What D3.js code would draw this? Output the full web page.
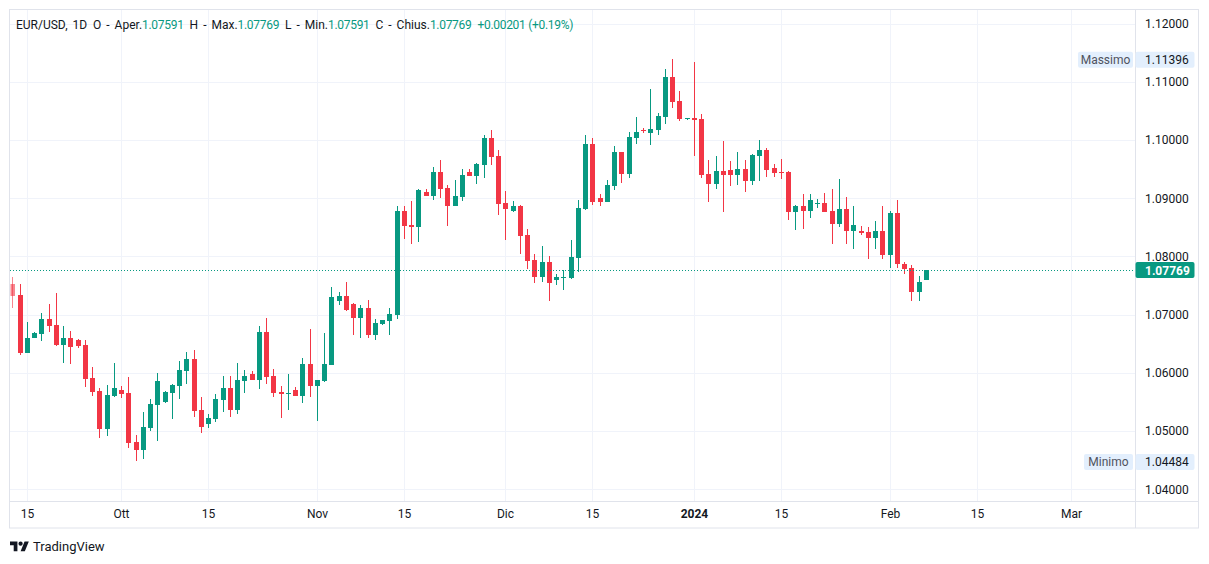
<!DOCTYPE html>
<html><head><meta charset="utf-8">
<script src="https://cdn.jsdelivr.net/npm/d3@7"></script>
<style>
html,body{margin:0;padding:0;background:#fff;}
svg{display:block;font-family:Roboto,"Liberation Sans",sans-serif;}
</style></head>
<body>
<svg id="chart" width="1209" height="564"></svg>
<script>
// ---------- DATA ----------
const firstBarDate = "2023-09-13"; // daily bars, Sunday sessions included, no Saturdays
const openValues = [1.07527,1.07343,1.06347,1.06604,1.06673,1.06926,1.06822,1.06484,1.06599,1.06565,
1.06479,1.05912,1.05689,1.05041,1.05603,1.05706,1.05654,1.04813,1.04681,1.05059,
1.05454,1.05505,1.05660,1.05780,1.06037,1.06238,1.05362,1.05127,1.05213,1.05539,
1.05740,1.05368,1.05866,1.05981,1.05883,1.06702,1.05946,1.05677,1.05643,1.05706,
1.05608,1.06153,1.05780,1.05866,1.06141,1.07235,1.07321,1.07183,1.06943,1.07114,
1.06651,1.06840,1.06891,1.06994,1.08781,1.08540,1.08506,1.09107,1.09038,1.09450,
1.09176,1.08866,1.09021,1.09450,1.09382,1.09571,1.10034,1.09725,1.08918,1.08781,
1.08866,1.08368,1.07939,1.07647,1.07905,1.07595,1.07635,1.07635,1.07978,1.08820,
1.09931,1.09004,1.08940,1.09215,1.09794,1.09421,1.10034,1.10172,1.10120,1.10172,
1.10395,1.11082,1.10670,1.10361,1.10378,1.10361,1.09416,1.09249,1.09468,1.09485,
1.09404,1.09502,1.09301,1.09730,1.09828,1.09519,1.09450,1.09450,1.08768,1.08866,
1.08786,1.08918,1.08918,1.08786,1.08562,1.08815,1.08442,1.08442,1.08420,1.08322,
1.08437,1.08030,1.08746,1.07870,1.07801,1.07394,1.07591];
const highValues = [1.07652,1.07527,1.06874,1.06707,1.07029,1.07188,1.07372,1.06805,1.06719,1.06582,
1.06565,1.06101,1.05740,1.05792,1.06170,1.05775,1.05929,1.04933,1.05328,1.05551,
1.05998,1.05689,1.05809,1.06204,1.06359,1.06393,1.05586,1.05299,1.05637,1.05946,
1.05946,1.06170,1.06050,1.06032,1.06805,1.06943,1.06067,1.05775,1.05981,1.05758,
1.06256,1.06754,1.05885,1.06685,1.07475,1.07389,1.07561,1.07200,1.07166,1.07252,
1.06926,1.06915,1.07114,1.08866,1.08866,1.08952,1.09150,1.09158,1.09536,1.09656,
1.09227,1.09313,1.09502,1.09502,1.09605,1.10086,1.10172,1.09828,1.09124,1.08952,
1.08880,1.08471,1.08042,1.08179,1.08008,1.07698,1.07767,1.08282,1.08969,1.10086,
1.10034,1.09073,1.09313,1.09897,1.09800,1.10137,1.10395,1.10206,1.10876,1.10464,
1.11220,1.11396,1.10842,1.10385,1.11340,1.10447,1.09656,1.09725,1.09983,1.09639,
1.09794,1.09656,1.09760,1.10000,1.09863,1.09588,1.09674,1.09468,1.08884,1.09073,
1.09073,1.08987,1.09090,1.09158,1.09330,1.09021,1.08866,1.08523,1.08506,1.08609,
1.08866,1.08781,1.08969,1.07905,1.07853,1.07669,1.07769];
const lowValues = [1.07120,1.06312,1.06340,1.06595,1.06553,1.06707,1.06470,1.06175,1.06158,1.06433,
1.05763,1.05608,1.04887,1.04921,1.05591,1.05574,1.04715,1.04484,1.04526,1.05007,
1.04835,1.05488,1.05213,1.05557,1.05814,1.05247,1.04973,1.05059,1.05161,1.05333,
1.05247,1.05299,1.05660,1.05883,1.05728,1.05814,1.05591,1.05230,1.05368,1.05608,
1.05488,1.05591,1.05179,1.05849,1.06130,1.07166,1.07070,1.06651,1.06599,1.06599,
1.06565,1.06822,1.06651,1.06926,1.08300,1.08214,1.08248,1.09038,1.08969,1.09004,
1.08523,1.08860,1.08952,1.09382,1.09244,1.09347,1.09571,1.08712,1.08282,1.08763,
1.08042,1.07784,1.07544,1.07561,1.07235,1.07510,1.07424,1.07618,1.07738,1.08803,
1.08889,1.08872,1.08930,1.09146,1.09267,1.09352,1.09931,1.10120,1.09914,1.10086,
1.10275,1.10550,1.10326,1.10352,1.09725,1.09352,1.08940,1.09164,1.08768,1.09215,
1.09232,1.09112,1.09232,1.09301,1.09370,1.09370,1.09335,1.08631,1.08459,1.08476,
1.08665,1.08837,1.08768,1.08219,1.08511,1.08219,1.08133,1.08373,1.07961,1.08133,
1.07961,1.07807,1.07807,1.07704,1.07240,1.07240,1.07591];
const closeValues = [1.07326,1.06347,1.06599,1.06690,1.06926,1.06810,1.06484,1.06599,1.06450,1.06467,
1.05900,1.05677,1.05041,1.05620,1.05740,1.05637,1.04801,1.04681,1.05071,1.05466,
1.05861,1.05672,1.05792,1.06050,1.06238,1.05350,1.05076,1.05225,1.05551,1.05740,
1.05368,1.05878,1.05946,1.05883,1.06702,1.05934,1.05660,1.05642,1.05654,1.05608,
1.06153,1.05780,1.05870,1.06153,1.07303,1.07321,1.07080,1.06943,1.07114,1.06651,
1.06857,1.06908,1.07011,1.08781,1.08523,1.08506,1.09141,1.09038,1.09450,1.09158,
1.08866,1.09038,1.09399,1.09382,1.09588,1.10034,1.09708,1.08901,1.08815,1.08866,
1.08351,1.07922,1.07647,1.07905,1.07544,1.07647,1.07647,1.07990,1.08832,1.09931,
1.08940,1.08940,1.09227,1.09794,1.09421,1.10052,1.10137,1.10155,1.10189,1.10412,
1.11082,1.10653,1.10361,1.10378,1.10344,1.09399,1.09249,1.09468,1.09404,1.09404,
1.09502,1.09301,1.09742,1.09828,1.09490,1.09438,1.09438,1.08768,1.08866,1.08786,
1.08969,1.08923,1.08768,1.08562,1.08815,1.08442,1.08540,1.08408,1.08322,1.08437,
1.08030,1.08746,1.07875,1.07789,1.07394,1.07561,1.07769];
const priceTicks = [1.04,1.05,1.06,1.07,1.08,1.09,1.10,1.11,1.12];
const timeTickDates = ["2023-09-15","2023-10-01","2023-10-15","2023-11-01","2023-11-15","2023-12-01","2023-12-15","2024-01-01","2024-01-15","2024-02-01","2024-02-15","2024-03-01"];
const timeTickLabels = ["15","Ott","15","Nov","15","Dic","15","2024","15","Feb","15","Mar"];
const lastPrice = 1.07769;
const maxPrice = 1.11396;
const minPrice = 1.04484;
const legendParts = [
  {t:"EUR/USD, 1D", c:"dark", gap:0},
  {t:"O - Aper.", c:"dark", gap:6},
  {t:"1.07591", c:"val", gap:0},
  {t:"H - Max.", c:"dark", gap:6},
  {t:"1.07769", c:"val", gap:0},
  {t:"L - Min.", c:"dark", gap:6},
  {t:"1.07591", c:"val", gap:0},
  {t:"C - Chius.", c:"dark", gap:6},
  {t:"1.07769", c:"val", gap:0},
  {t:"+0.00201 (+0.19%)", c:"val", gap:6}
];

// ---------- LAYOUT ----------
const W = 1209, H = 564;
const plot = {x0:10, x1:1135, y0:10, y1:501};
const frame = {x0:9.5, y0:9.5, x1:1198.5, y1:528};
const barStep = 7.25, firstBarX = 12.8;
const UP = "#089981", DOWN = "#f23645", TEXT = "#131722", GRID = "#f0f3fa", BORDER = "#e0e3eb";

// calendar of bar slots (skip Saturdays)
const calendar = [];
{
  const d = new Date(firstBarDate + "T00:00:00Z");
  while (calendar.length < 170) {
    if (d.getUTCDay() !== 6) calendar.push(d.toISOString().slice(0,10));
    d.setUTCDate(d.getUTCDate() + 1);
  }
}
const bars = openValues.map((o,i)=>({date:calendar[i], o, h:highValues[i], l:lowValues[i], c:closeValues[i]}));

const x = d3.scalePoint().domain(calendar).range([firstBarX, firstBarX + barStep*(calendar.length-1)]);
const y = d3.scaleLinear().domain([1.04, 1.12]).range([489.3, 23.56]);

const svg = d3.select("#chart");
svg.append("rect").attr("width",W).attr("height",H).attr("fill","#fff");

svg.append("defs").append("clipPath").attr("id","plotclip")
  .append("rect").attr("x",plot.x0+0.5).attr("y",plot.y0).attr("width",plot.x1-plot.x0-0.5).attr("height",plot.y1-plot.y0);

// grid
const grid = svg.append("g");
grid.selectAll("line.h").data(priceTicks).join("line")
  .attr("x1",plot.x0).attr("x2",plot.x1)
  .attr("y1",d=>Math.round(y(d))+0.5).attr("y2",d=>Math.round(y(d))+0.5)
  .attr("stroke",GRID).attr("stroke-width",1);
grid.selectAll("line.v").data(timeTickDates).join("line")
  .attr("x1",d=>Math.floor(x(d))+0.5).attr("x2",d=>Math.floor(x(d))+0.5)
  .attr("y1",plot.y0).attr("y2",plot.y1)
  .attr("stroke",GRID).attr("stroke-width",1);

// frame
svg.append("rect").attr("x",frame.x0).attr("y",frame.y0)
  .attr("width",frame.x1-frame.x0).attr("height",frame.y1-frame.y0)
  .attr("fill","none").attr("stroke",BORDER).attr("stroke-width",1);
svg.append("line").attr("x1",plot.x1+0.5).attr("x2",plot.x1+0.5).attr("y1",frame.y0).attr("y2",frame.y1)
  .attr("stroke",BORDER);
svg.append("line").attr("x1",frame.x0).attr("x2",frame.x1).attr("y1",plot.y1+0.5).attr("y2",plot.y1+0.5)
  .attr("stroke",BORDER);

// candles
const cg = svg.append("g").attr("clip-path","url(#plotclip)");
const cand = cg.selectAll("g.c").data(bars).join("g")
  .attr("fill",d=>d.c>=d.o?UP:DOWN)
  .attr("fill-opacity",(d,i)=>i===0?0.6:1);
cand.append("rect")
  .attr("x",d=>Math.floor(x(d.date)))
  .attr("width",1)
  .attr("y",d=>Math.round(y(d.h)))
  .attr("height",d=>Math.max(1,Math.round(y(d.l))-Math.round(y(d.h))));
cand.append("rect")
  .attr("x",d=>Math.floor(x(d.date))-2)
  .attr("width",5)
  .attr("y",d=>Math.round(y(Math.max(d.o,d.c))))
  .attr("height",d=>Math.max(1,Math.round(y(Math.min(d.o,d.c)))-Math.round(y(Math.max(d.o,d.c)))));

// last price dotted line
const ly = Math.round(y(lastPrice))+0.5;
svg.append("line").attr("x1",plot.x0).attr("x2",plot.x1).attr("y1",ly).attr("y2",ly)
  .attr("stroke",UP).attr("stroke-width",1).attr("stroke-dasharray","1 2");

// price axis labels
const pa = svg.append("g").attr("font-size",12).attr("fill",TEXT);
pa.selectAll("text").data(priceTicks).join("text")
  .attr("x",1145).attr("y",d=>y(d)).attr("dy","0.36em")
  .text(d=>d.toFixed(5));

// max / min labels
function extremeLabel(value, name, labelWidth){
  const cy = y(value) + 1;
  const g = svg.append("g");
  g.append("rect").attr("x",plot.x1-2-labelWidth).attr("y",cy-8).attr("width",labelWidth).attr("height",16)
    .attr("rx",2).attr("fill","#e3effd");
  g.append("text").attr("x",plot.x1-2-labelWidth/2).attr("y",cy).attr("dy","0.36em")
    .attr("text-anchor","middle").attr("font-size",12).attr("fill","#50535e").text(name);
  g.append("rect").attr("x",plot.x1+0.5).attr("y",cy-8).attr("width",59).attr("height",16)
    .attr("rx",2).attr("fill","#e3effd");
  g.append("text").attr("x",1145).attr("y",cy).attr("dy","0.36em")
    .attr("font-size",12).attr("fill",TEXT).text(value.toFixed(5));
}
extremeLabel(maxPrice,"Massimo",55);
extremeLabel(minPrice,"Minimo",49);

// last price label
svg.append("rect").attr("x",plot.x1+0.5).attr("y",ly-8.5).attr("width",59).attr("height",16)
  .attr("rx",2).attr("fill",UP);
svg.append("text").attr("x",1145).attr("y",ly).attr("dy","0.36em")
  .attr("font-size",12).attr("font-weight","bold").attr("fill","#fff").text(lastPrice.toFixed(5));

// time axis labels
svg.append("g").selectAll("text").data(timeTickDates).join("text")
  .attr("x",d=>Math.floor(x(d))+0.5).attr("y",514).attr("dy","0.36em")
  .attr("text-anchor","middle").attr("font-size",12).attr("fill",TEXT)
  .attr("font-weight",(d,i)=>timeTickLabels[i]==="2024"?"bold":"normal")
  .text((d,i)=>timeTickLabels[i]);

// legend (header)
const leg = svg.append("text").attr("x",16).attr("y",28.5).attr("font-size",12);
legendParts.forEach(p=>{
  leg.append("tspan").attr("dx",p.gap).attr("fill",p.c==="val"?UP:TEXT)
    .attr("word-spacing",p.c==="val"?0:2)
    .attr("letter-spacing",p.c==="val"?-0.3:0).text(p.t);
});

// TradingView logo
const logo = svg.append("g").attr("transform","translate(10,539.5) scale(0.53)").attr("fill",TEXT);
logo.append("path").attr("d","M14 22H7V11H0V4h14v18zM28 22h-8l7.5-18h8L28 22z");
logo.append("circle").attr("cx",20).attr("cy",8).attr("r",4);
svg.append("text").attr("x",33).attr("y",551).attr("font-size",13).attr("fill",TEXT).text("TradingView");
</script>
</body></html>
